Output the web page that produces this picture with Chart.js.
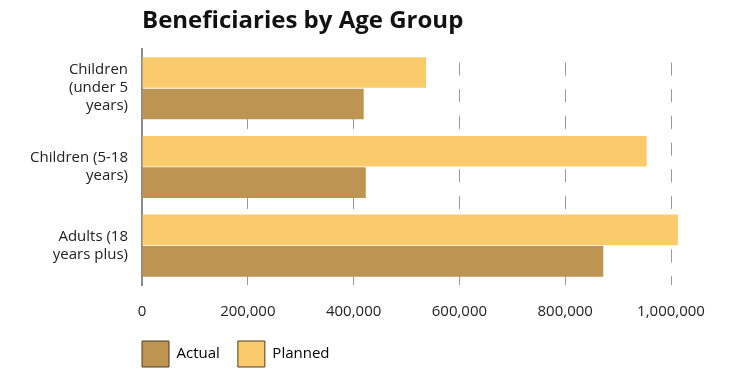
<!DOCTYPE html>
<html>
<head>
<meta charset="utf-8">
<script src="https://cdn.jsdelivr.net/npm/chart.js@4.4.0/dist/chart.umd.min.js"></script>
<style>
html,body{margin:0;padding:0;background:#fff;}
#wrap{width:730px;height:370px;position:relative;}
</style>
</head>
<body>
<div id="wrap"><canvas id="c" width="730" height="370"></canvas></div>
<script>
const categories = [["Children", "(under 5", "years)"], ["Children (5-18", "years)"], ["Adults (18", "years plus)"]];
const plannedValues = [537000, 954000, 1013000];
const actualValues = [419000, 423000, 872000];
const seriesNames = ["Actual", "Planned"];
const tickValues = [0, 200000, 400000, 600000, 800000, 1000000];

const actualColor = "#BD9451";
const plannedColor = "#F9CB6A";
const font = "'Open Sans', 'Noto Sans', sans-serif";

const legendShift = {
  id: 'legendShift',
  afterLayout(chart) {
    if (chart.legend) { chart.legend.left -= 18; chart.legend.right -= 18; }
  }
};

new Chart(document.getElementById('c'), {
  type: 'bar',
  data: {
    labels: categories,
    datasets: [
      { label: seriesNames[1], data: plannedValues, backgroundColor: plannedColor, categoryPercentage: 0.8, barPercentage: 0.97 },
      { label: seriesNames[0], data: actualValues, backgroundColor: actualColor, categoryPercentage: 0.8, barPercentage: 0.97 }
    ]
  },
  plugins: [legendShift],
  options: {
    indexAxis: 'y',
    responsive: false,
    animation: false,
    layout: { padding: { left: 16, right: 41, top: 7, bottom: -7 } },
    scales: {
      x: {
        min: 0,
        max: 1034000,
        afterBuildTicks: axis => { axis.ticks = tickValues.map(v => ({ value: v })); },
        afterFit: axis => { axis.height -= 16; },
        ticks: {
          color: '#222',
          font: { family: font, size: 15 },
          padding: 18,
          maxRotation: 0,
          autoSkip: false,
          callback: v => Number(v).toLocaleString('en-US')
        },
        grid: {
          drawTicks: false,
          color: '#999',
          lineWidth: 1
        },
        border: { display: false, dash: [13, 13.7], dashOffset: 13 }
      },
      y: {
        ticks: {
          color: '#222',
          font: { family: font, size: 15 },
          padding: 14
        },
        grid: { display: false, drawTicks: false },
        border: { display: true, color: '#8c8c8c', width: 2 }
      }
    },
    plugins: {
      title: {
        display: true,
        text: 'Beneficiaries by Age Group',
        align: 'start',
        fullSize: false,
        color: '#111',
        font: { family: font, size: 24, weight: 'bold' },
        padding: { top: 0, bottom: 13 }
      },
      legend: {
        display: true,
        position: 'bottom',
        align: 'start',
        fullSize: false,
        reverse: true,
        labels: {
          boxWidth: 27,
          boxHeight: 26,
          padding: 18,
          color: '#222',
          font: { family: font, size: 15 },
          generateLabels: chart => chart.data.datasets.map((ds, i) => ({
            text: ds.label,
            fillStyle: ds.backgroundColor,
            strokeStyle: '#4a3c22',
            lineWidth: 1,
            datasetIndex: i,
            hidden: false
          }))
        }
      },
      tooltip: { enabled: false }
    }
  }
});
</script>
</body>
</html>
